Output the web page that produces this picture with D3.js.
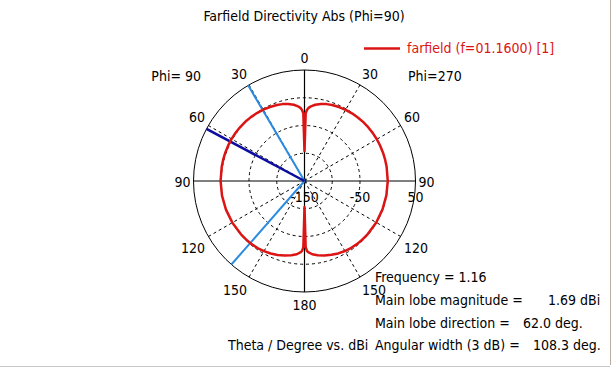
<!DOCTYPE html>
<html><head><meta charset="utf-8">
<script src="https://cdn.jsdelivr.net/npm/d3@7"></script>
<style>
html,body{margin:0;padding:0;background:#fff;}
svg text{font-family:"DejaVu Sans Condensed","DejaVu Sans",sans-serif;font-stretch:condensed;font-size:14px;fill:#000;}
</style></head>
<body>
<svg id="c" width="616" height="368"></svg>
<script>
// ---- data ----
const thetaDeg = [0,1,2,3,5,8,12,16,20,25,30,35,40,45,50,55,60,62,65,70,75,80,90,100,110,120,130,135,140,145,150,155,160,165,170,174,177,178,179,180];
// Phi = 90 (left half), dBi
const dirPhi90 = [-97.2,-28.0,-22.0,-18.5,-14.9,-11.3,-8.0,-5.9,-4.4,-2.9,-1.4,-0.5,0.3,0.9,1.3,1.55,1.67,1.69,1.66,1.58,1.48,1.38,1.2,0.95,0.6,0.1,-0.6,-1.0,-1.5,-2.6,-4.0,-5.9,-8.3,-11.0,-14.3,-17.3,-21.5,-24.0,-31.0,-103.0];
// Phi = 270 (right half), dBi
const dirPhi270 = [-97.2,-28.0,-22.0,-18.5,-14.9,-11.3,-8.0,-5.9,-4.3,-3.0,-1.9,-1.1,-0.5,-0.1,0.2,0.35,0.4,0.4,0.4,0.35,0.3,0.2,0.0,-0.2,-0.4,-0.7,-1.2,-1.6,-2.1,-3.0,-4.3,-6.0,-8.4,-11.0,-14.3,-17.3,-21.5,-24.0,-31.0,-103.0];
const mainLobeDir = 62.0;
const beam3dB = [30.5, 138.8];
const angleTicks = [0,30,60,90,120,150,180];
const ringValues = [-100,-50,0];
const radialTickValues = [-150,-50,50];
const radialTickLabels = ["-150","-50","50"];
const infoLabels = ["Frequency = 1.16","Main lobe magnitude =","Main lobe direction =","Angular width (3 dB) ="];
const infoValues = ["","1.69 dBi","62.0 deg.","108.3 deg."];

// ---- layout ----
const svg = d3.select("#c");
const cx = 304.5, cy = 181, R = 111;
const rScale = d3.scaleLinear().domain([-150, 50]).range([0, R]);
const rad = d => d * Math.PI / 180;
const g = svg.append("g").attr("transform", `translate(${cx},${cy})`);

// frame
svg.append("line").attr("x1",610.5).attr("x2",610.5).attr("y1",0).attr("y2",365).attr("stroke","#b9ada0").attr("stroke-width",1);
svg.append("line").attr("x1",0).attr("x2",610).attr("y1",366.5).attr("y2",366.5).attr("stroke","#c8c8c8").attr("stroke-width",1);

// dashed rings
g.selectAll("circle.ring").data(ringValues).join("circle")
  .attr("r", d => rScale(d)).attr("fill","none").attr("stroke","#000")
  .attr("stroke-width",1).attr("stroke-dasharray","3,3");
// outer circle
g.append("circle").attr("r", rScale(50)).attr("fill","none").attr("stroke","#000").attr("stroke-width",1);

// dashed spokes
const spokeAngles = [];
angleTicks.filter(a => a % 90 !== 0).forEach(a => { spokeAngles.push(a); spokeAngles.push(-a); });
g.selectAll("line.spoke").data(spokeAngles).join("line")
  .attr("x1",0).attr("y1",0)
  .attr("x2", a => R * Math.sin(rad(a))).attr("y2", a => -R * Math.cos(rad(a)))
  .attr("stroke","#000").attr("stroke-width",1).attr("stroke-dasharray","3,3");
// solid axes
g.append("line").attr("x1",-R).attr("x2",R).attr("y1",0).attr("y2",0).attr("stroke","#000").attr("stroke-width",1.2);
g.append("line").attr("x1",0).attr("x2",0).attr("y1",-R).attr("y2",R).attr("stroke","#000").attr("stroke-width",1.2);

// radial tick labels
g.selectAll("text.rt").data(radialTickValues).join("text")
  .attr("x", d => rScale(d)).attr("y", 21).attr("text-anchor","middle")
  .text((d,i) => radialTickLabels[i]);

// angle labels
const lblR = R + 4;
const angleLabelData = [];
angleTicks.forEach(a => {
  if (a === 0 || a === 180) angleLabelData.push({a, side: 0});
  else { angleLabelData.push({a, side: 1}); angleLabelData.push({a, side: -1}); }
});
g.selectAll("text.al").data(angleLabelData).join("text")
  .attr("x", d => d.side * lblR * Math.sin(rad(d.a)) + (d.a===90 ? d.side*(-1) : 0))
  .attr("y", d => {
    const py = -lblR * Math.cos(rad(d.a));
    if (d.a < 90) return py - (d.a===0 ? 3 : 2);
    if (d.a === 90) return py + 6;
    return py + 14;
  })
  .attr("text-anchor", d => d.side === 0 ? "middle" : (d.side > 0 ? "start" : "end"))
  .text(d => d.a);

// 3dB lines (light blue) and main lobe (dark blue) on Phi=90 side (left)
g.selectAll("line.bw").data(beam3dB).join("line")
  .attr("x1",0).attr("y1",0)
  .attr("x2", a => -rScale(50) * Math.sin(rad(a))).attr("y2", a => -rScale(50) * Math.cos(rad(a)))
  .attr("stroke","#2a8be0").attr("stroke-width",2);
g.append("line").attr("x1",0).attr("y1",0)
  .attr("x2", -rScale(50) * Math.sin(rad(mainLobeDir))).attr("y2", -rScale(50) * Math.cos(rad(mainLobeDir)))
  .attr("stroke","#0c0ca0").attr("stroke-width",2.5);

// pattern curve
const pts = [];
thetaDeg.forEach((t,i) => pts.push({ang: rad(t), v: dirPhi270[i]}));
for (let i = thetaDeg.length - 1; i >= 0; i--) pts.push({ang: -rad(thetaDeg[i]), v: dirPhi90[i]});
const line = d3.lineRadial().angle(d => d.ang).radius(d => rScale(d.v)).curve(d3.curveLinear);
g.append("path").attr("d", line(pts)).attr("fill","none").attr("stroke","#dc1414")
  .attr("stroke-width",2.5).attr("stroke-linejoin","round");

// title
svg.append("text").attr("x",304).attr("y",21).attr("text-anchor","middle").text("Farfield Directivity Abs (Phi=90)");
// legend
svg.append("line").attr("x1",364).attr("x2",400).attr("y1",48.5).attr("y2",48.5).attr("stroke","#dc1414").attr("stroke-width",2.5);
svg.append("text").attr("x",407).attr("y",53).style("fill","#dc1414").text("farfield (f=01.1600) [1]");
// phi labels
svg.append("text").attr("x",201).attr("y",81).attr("text-anchor","end").text("Phi= 90");
svg.append("text").attr("x",408).attr("y",81).text("Phi=270");

// info block
const infoY = [282, 305, 328, 350];
const valueX = [0, 548, 523, 533];
svg.append("text").attr("x",228).attr("y",350).text("Theta / Degree vs. dBi");
infoLabels.forEach((t,i) => {
  svg.append("text").attr("x",375).attr("y",infoY[i]).text(t);
  if (infoValues[i]) svg.append("text").attr("x",valueX[i]).attr("y",infoY[i]).text(infoValues[i]);
});
</script>
</body></html>
